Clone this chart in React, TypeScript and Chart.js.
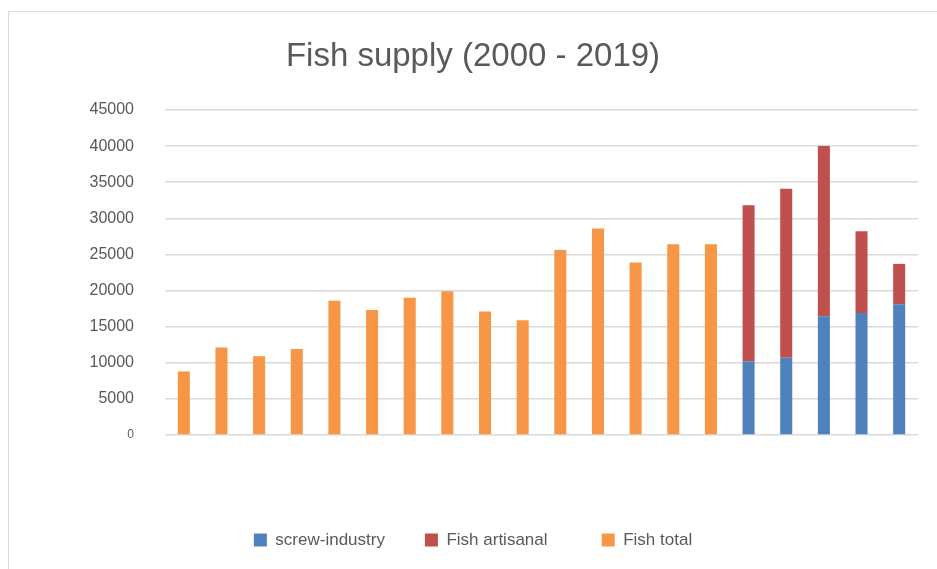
import React, { useEffect, useRef } from "react";
import { Chart, registerables } from "chart.js";

Chart.register(...registerables);

const years = ["2000", "2001", "2002", "2003", "2004", "2005", "2006", "2007", "2008", "2009",
  "2010", "2011", "2012", "2013", "2014", "2015", "2016", "2017", "2018", "2019"];

const screwIndustry = [null, null, null, null, null, null, null, null, null, null,
  null, null, null, null, null, 10200, 10700, 16450, 16900, 18100];

const fishArtisanal = [null, null, null, null, null, null, null, null, null, null,
  null, null, null, null, null, 21600, 23400, 23550, 11300, 5600];

const fishTotal = [8800, 12100, 10900, 11900, 18600, 17300, 19000, 19900, 17100, 15900,
  25600, 28600, 23900, 26400, 26400, null, null, null, null, null];

const yTicks = [0, 5000, 10000, 15000, 20000, 25000, 30000, 35000, 40000, 45000];

const FONT = "'Liberation Sans', Arial, sans-serif";
const TEXT = "#595959";

export default function App() {
  const ref = useRef<HTMLCanvasElement | null>(null);

  useEffect(() => {
    if (!ref.current) return;
    const chart = new Chart(ref.current, {
      type: "bar",
      data: {
        labels: years,
        datasets: [
          { label: "screw-industry", data: screwIndustry, backgroundColor: "#4F81BD", stack: "s" },
          { label: "Fish artisanal", data: fishArtisanal, backgroundColor: "#C0504D", stack: "s" },
          { label: "Fish total", data: fishTotal, backgroundColor: "#F79646", stack: "s" },
        ],
      },
      options: {
        responsive: false,
        animation: false,
        datasets: { bar: { categoryPercentage: 0.8, barPercentage: 0.4 } },
        layout: { padding: { left: 19, right: 19, top: 0, bottom: 10.5 } },
        plugins: {
          tooltip: { enabled: false },
          title: {
            display: true,
            text: "Fish supply (2000 - 2019)",
            color: TEXT,
            font: { family: FONT, size: 33, weight: "normal" },
            padding: { top: 25, bottom: 33.4 },
          },
          legend: {
            position: "bottom",
            labels: {
              color: TEXT,
              font: { family: FONT, size: 17 },
              boxWidth: 13,
              boxHeight: 13,
              padding: 40,
              generateLabels: (c: any) => {
                const items = Chart.defaults.plugins.legend.labels.generateLabels(c);
                items.forEach((it: any) => {
                  if (it.text === "Fish artisanal") it.text = it.text + "   ";
                  it.lineWidth = 0;
                });
                return items;
              },
            },
          },
        },
        scales: {
          x: {
            stacked: true,
            grid: { display: false },
            border: { display: false },
            ticks: { display: false },
            afterFit: (s: any) => { s.height = 56.5; },
          },
          y: {
            stacked: true,
            min: 0,
            max: 45000,
            afterBuildTicks: (s: any) => { s.ticks = yTicks.map((v) => ({ value: v })); },
            grid: { color: "#d9d9d9", lineWidth: 1.6, drawTicks: false },
            border: { display: false },
            ticks: {
              padding: 31,
              color: TEXT,
              font: (ctx: any) => ({ family: FONT, size: ctx.tick && ctx.tick.value === 0 ? 12 : 16 }),
              callback: (v: any) => String(v),
            },
            afterFit: (s: any) => { s.width = 137; },
          },
        },
      },
    });
    return () => chart.destroy();
  }, []);

  return (
    <div
      style={{
        position: "absolute",
        left: 8,
        top: 11,
        width: 929,
        height: 558,
        borderTop: "1px solid #d9d9d9",
        borderLeft: "1px solid #d9d9d9",
        boxSizing: "border-box",
        background: "#fff",
      }}
    >
      <canvas ref={ref} width={928} height={557} style={{ display: "block" }} />
    </div>
  );
}
